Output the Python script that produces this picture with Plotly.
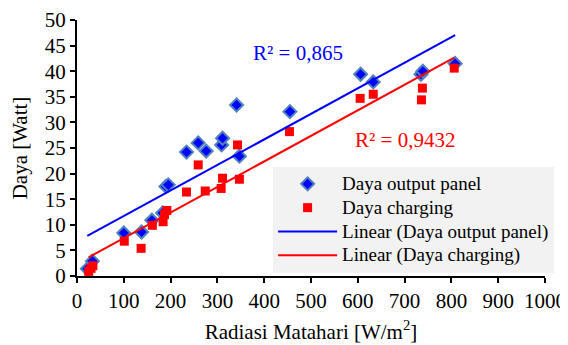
import numpy as np
import plotly.graph_objects as go

# Data
panel_x = [22, 33, 100, 138, 160, 183, 190, 195, 234, 259, 276, 309, 311, 341, 347, 455, 606, 633, 735, 739, 808]
panel_y = [1.4, 2.9, 8.4, 8.6, 10.9, 12.3, 17.5, 17.8, 24.2, 26.0, 24.4, 25.6, 26.9, 33.4, 23.4, 32.1, 39.4, 37.9, 39.4, 40.0, 41.5]

charge_x = [25, 30, 34, 101, 137, 161, 184, 187, 192, 234, 259, 274, 308, 311, 343, 347, 454, 605, 633, 736, 738, 806]
charge_y = [0.9, 1.5, 2.0, 6.8, 5.4, 9.9, 10.6, 12.0, 12.8, 16.4, 21.7, 16.6, 17.1, 19.1, 25.6, 18.9, 28.2, 34.7, 35.5, 34.4, 36.7, 40.6]

names = ["Daya output panel", "Daya charging", "Linear (Daya output panel)", "Linear (Daya charging)"]
r2_labels = ["R² = 0,865", "R² = 0,9432"]
x_ticks = list(range(0, 1001, 100))
y_ticks = list(range(0, 51, 5))

FONT = "Liberation Serif"


def trend(xs, ys):
    m, c = np.polyfit(xs, ys, 1)
    xx = np.array([min(xs), max(xs)], dtype=float)
    return xx, m * xx + c


def legend_label(s):
    return '<span style="font-size:19px">' + s + "</span>"


bx, by = trend(panel_x, panel_y)
rx, ry = trend(charge_x, charge_y)

fig = go.Figure()
fig.add_trace(go.Scatter(
    x=panel_x, y=panel_y, mode="markers", name=legend_label(names[0]),
    marker=dict(symbol="diamond", size=10, color="#0000ff",
                line=dict(color="#4f81bd", width=2)),
))
fig.add_trace(go.Scatter(
    x=charge_x, y=charge_y, mode="markers", name=legend_label(names[1]),
    marker=dict(symbol="square", size=9, color="#ff0000", line=dict(width=0)),
))
fig.add_trace(go.Scatter(
    x=bx, y=by, mode="lines", name=legend_label(names[2]),
    line=dict(color="#0000ff", width=2),
))
fig.add_trace(go.Scatter(
    x=rx, y=ry, mode="lines", name=legend_label(names[3]),
    line=dict(color="#ff0000", width=2),
))

fig.add_annotation(x=0.472, y=0.871, xref="paper", yref="paper", text=r2_labels[0],
                   showarrow=False, font=dict(family=FONT, size=21, color="#0000ff"),
                   xanchor="center", yanchor="middle")
fig.add_annotation(x=0.70, y=0.531, xref="paper", yref="paper", text=r2_labels[1],
                   showarrow=False, font=dict(family=FONT, size=21, color="#ff0000"),
                   xanchor="center", yanchor="middle")

axis_common = dict(
    showline=True, linecolor="black", linewidth=2,
    ticks="outside", ticklen=5, tickwidth=2, tickcolor="black",
    showgrid=False, zeroline=False, mirror=False, automargin=False,
    tickfont=dict(family=FONT, size=21, color="black"),
)

fig.update_xaxes(range=[0, 1000], tickvals=x_ticks,
                 title=dict(text="Radiasi Matahari [W/m<sup>2</sup>]",
                            font=dict(family=FONT, size=21, color="black"), standoff=12),
                 **axis_common)
fig.update_yaxes(range=[0, 50], tickvals=y_ticks,
                 title=dict(text="Daya [Watt]",
                            font=dict(family=FONT, size=21, color="black"), standoff=11),
                 **axis_common)

# page body adds an 8px margin; size and margins compensate for it
fig.update_layout(
    width=560, height=337,
    margin=dict(l=69, r=23, t=12, b=69),
    paper_bgcolor="white", plot_bgcolor="white",
    font=dict(family=FONT, color="black"),
    legend=dict(x=0.419, y=0.426, xanchor="left", yanchor="top",
                bgcolor="#f2f2f2", font=dict(family=FONT, size=16, color="black"),
                tracegroupgap=0, itemwidth=59),
    showlegend=True,
)

fig.write_html("out.html")
